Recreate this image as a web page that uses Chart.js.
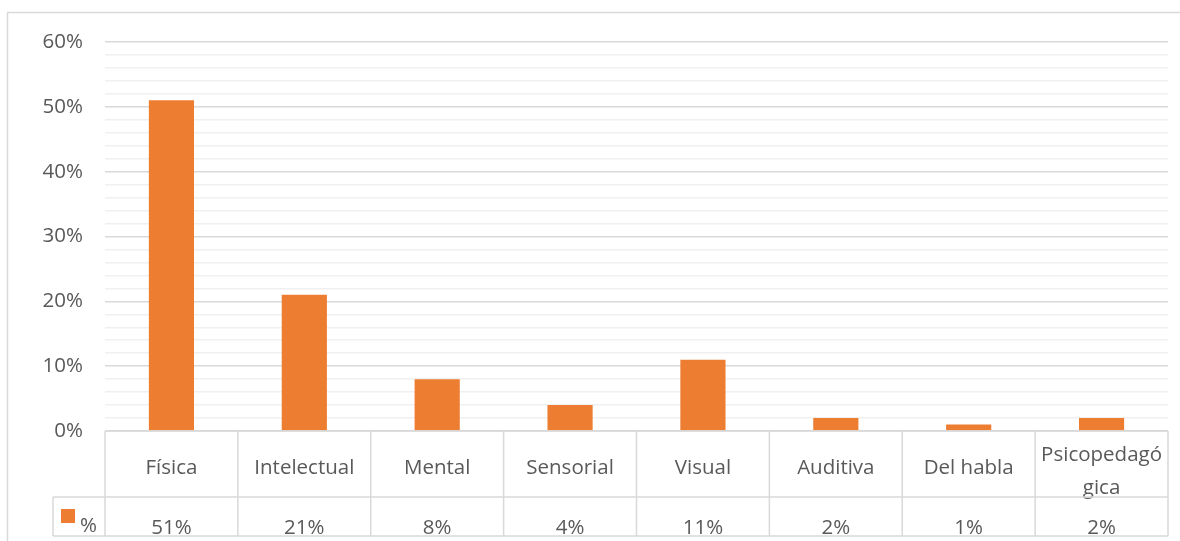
<!DOCTYPE html>
<html>
<head>
<meta charset="utf-8">
<script src="https://cdn.jsdelivr.net/npm/chart.js@4"></script>
<style>
  html, body { margin:0; padding:0; background:#fff; }
  #wrap { width:1180px; height:541px; }
</style>
</head>
<body>
<div id="wrap"><canvas id="chart" width="1180" height="541"></canvas></div>
<script>
/* ── Datos ── */
var categorias = ['Física', 'Intelectual', 'Mental', 'Sensorial', 'Visual', 'Auditiva', 'Del habla', 'Psicopedagógica'];
var etiquetasTabla = ['Física', 'Intelectual', 'Mental', 'Sensorial', 'Visual', 'Auditiva', 'Del habla', ['Psicopedagó', 'gica']];
var porcentajes = [51, 21, 8, 4, 11, 2, 1, 2];
var serieNombre = '%';
var ejeMax = 60;
var ejePaso = 2;

var FONT = "'Open Sans', sans-serif";
var TXT = '#595959';
var LINEA = '#d9d9d9';
var NARANJA = '#ED7D31';

/* ── Tabla de datos bajo el gráfico ── */
var tablaPlugin = {
  id: 'tablaDatos',
  afterDraw: function(chart) {
    var c = chart.ctx, a = chart.chartArea;
    var n = categorias.length;
    var w = (a.right - a.left) / n;
    var y0 = a.bottom, y1 = a.bottom + 66, y2 = a.bottom + 105;
    var xLeg = 53;

    c.save();
    c.font = '20.5px ' + FONT;
    c.fillStyle = TXT;
    c.textAlign = 'center';
    c.textBaseline = 'middle';
    for (var i = 0; i < n; i++) {
      var cx = a.left + w * (i + 0.5);
      var lab = etiquetasTabla[i];
      if (Array.isArray(lab)) {
        c.fillText(lab[0], cx, y0 + 24);
        c.fillText(lab[1], cx, y0 + 57);
      } else {
        c.fillText(lab, cx, y0 + 37);
      }
      c.fillText(porcentajes[i] + '%', cx, y1 + 31);
    }
    // leyenda
    c.fillStyle = NARANJA;
    c.fillRect(61, y1 + 12, 14, 14);
    c.fillStyle = TXT;
    c.textAlign = 'left';
    c.fillText(serieNombre, 80, y1 + 29);

    // líneas
    c.strokeStyle = LINEA;
    c.lineWidth = 1.5;
    c.beginPath();
    c.moveTo(a.left, y0); c.lineTo(a.right, y0);
    c.moveTo(xLeg, y1); c.lineTo(a.right, y1);
    c.moveTo(xLeg, y2); c.lineTo(a.right, y2);
    for (var j = 0; j <= n; j++) {
      var x = a.left + w * j;
      c.moveTo(x, y0); c.lineTo(x, y2);
    }
    c.moveTo(xLeg, y1); c.lineTo(xLeg, y2);
    c.stroke();

    // marco exterior
    c.beginPath();
    c.moveTo(7.5, 541); c.lineTo(7.5, 12.5); c.lineTo(1180, 12.5);
    c.stroke();
    c.restore();
  }
};

new Chart(document.getElementById('chart').getContext('2d'), {
  type: 'bar',
  data: {
    labels: categorias,
    datasets: [{ label: serieNombre, data: porcentajes, backgroundColor: NARANJA, categoryPercentage: 1, barPercentage: 0.34 }]
  },
  options: {
    responsive: false,
    animation: false,
    layout: { padding: { top: 42, right: 12, bottom: 110, left: 0 } },
    plugins: { legend: { display: false }, tooltip: { enabled: false } },
    scales: {
      x: { display: false },
      y: {
        min: 0, max: ejeMax,
        afterFit: function(s) { s.width = 105; },
        border: { display: false },
        grid: {
          drawTicks: false,
          lineWidth: function(ctx) { return ctx.tick && ctx.tick.value % 10 === 0 ? 1.5 : 1.5; },
          color: function(ctx) { return ctx.tick && ctx.tick.value % 10 === 0 ? '#d9d9d9' : '#f0f0f0'; }
        },
        ticks: {
          stepSize: ejePaso, autoSkip: false, padding: 22,
          color: TXT, font: { family: FONT, size: 20.5 },
          callback: function(v) { return v % 10 === 0 ? v + '%' : ''; }
        }
      }
    }
  },
  plugins: [tablaPlugin]
});
</script>
</body>
</html>
